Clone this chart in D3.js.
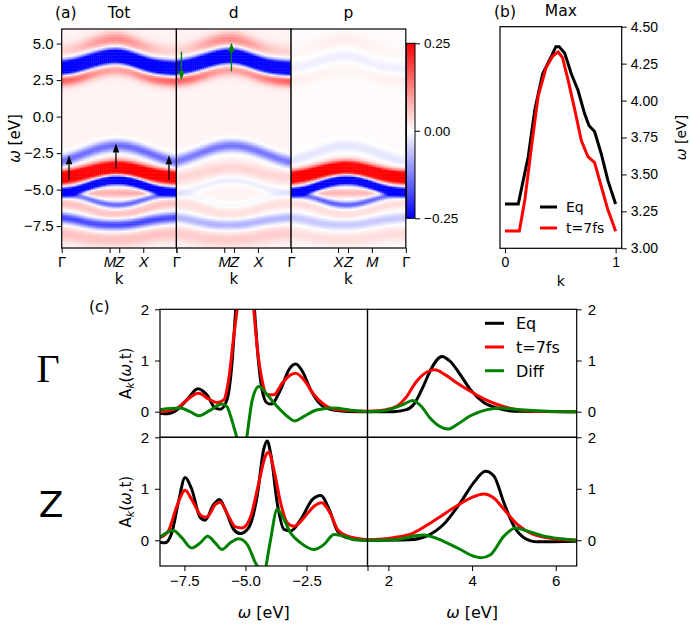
<!DOCTYPE html>
<html lang="en">
<head>
<meta charset="UTF-8">
<title>Spectral maps</title>
<script src="https://d3js.org/d3.v7.min.js"></script>
<style>
    body { margin: 0; background: #fff; }
    svg { font-family: "DejaVu Sans", sans-serif; }
    .frame { fill: none; stroke: #000; stroke-width: 1.2; }
    .tick line { stroke: #000; }
    .domain { display: none; }
</style>
</head>
<body>
<script>

    var width = 690,
        height = 625;

    // ---------- panel (a): band features read along the k path ----------
    var kNodes  = [0, 0.1, 0.2, 0.3, 0.4, 0.5, 0.6, 0.7, 0.8, 0.9, 1];
    var upBand  = [3.35, 3.45, 3.7, 3.95, 4.15, 4.2, 4.0, 3.7, 3.45, 3.35, 3.3];
    var upBelow = [2.55, 2.6, 2.8, 3.05, 3.25, 3.3, 3.15, 2.85, 2.65, 2.55, 2.5];
    var upAbove = [4.5, 4.6, 4.85, 5.1, 5.3, 5.35, 5.15, 4.85, 4.6, 4.5, 4.45];
    var bandA   = [-3.05, -2.8, -2.5, -2.2, -2.0, -1.95, -2.05, -2.3, -2.6, -2.9, -3.1];
    var bandB   = [-4.15, -4.05, -3.85, -3.65, -3.5, -3.45, -3.55, -3.75, -3.95, -4.1, -4.15];
    var bandC   = [-5.15, -5.1, -4.85, -4.55, -4.35, -4.3, -4.4, -4.65, -4.95, -5.1, -5.15];
    var bandD   = [-5.3, -5.35, -5.5, -5.8, -6.0, -6.05, -5.95, -5.7, -5.45, -5.3, -5.25];
    var lensIn  = [-5.25, -5.25, -5.2, -5.2, -5.2, -5.2, -5.2, -5.2, -5.2, -5.2, -5.2];
    var pinkDE  = [-5.9, -6.0, -6.2, -6.5, -6.7, -6.7, -6.6, -6.4, -6.1, -5.95, -5.9];
    var bandE   = [-6.9, -7.0, -7.2, -7.35, -7.4, -7.4, -7.35, -7.2, -7.05, -6.95, -6.9];
    var belowE  = [-8.0, -8.1, -8.25, -8.35, -8.4, -8.4, -8.35, -8.25, -8.1, -8.0, -8.0];
    var bandSig = [0.32, 0.3, 0.35, 0.28, 0.3, 0.2, 0.16, 0.2, 0.25, 0.25, 0.35];

    // how the strength of the red fringes around the upper band changes along k
    var upBelowGain = [1.3, 1.2, 1.0, 0.8, 0.7, 0.7, 0.75, 0.9, 1.1, 1.25, 1.3];
    var upAboveGain = [0.4, 0.5, 0.8, 1.1, 1.3, 1.3, 1.2, 0.9, 0.6, 0.45, 0.4];

    // strength of each feature in the three maps (same order as bands)
    var ampTot = [-0.6, 0.13, 0.08, -0.16, 0.45, -0.5, -0.17, 0.07, 0.05, -0.2, 0.05];
    var ampD   = [-0.6, 0.13, 0.08, -0.15, 0.03, -0.03, -0.02, 0.0, 0.02, -0.09, 0.04];
    var ampP   = [-0.02, 0.01, 0.01, -0.03, 0.45, -0.5, -0.17, 0.07, 0.03, -0.06, 0.03];
    var bgLevel = [0.012, 0.012, 0.004];

    var mapTitles = ["Tot", "d", "p"];
    var kTicksA  = [0, 0.417, 0.502, 0.711, 1];
    var kLabelsA = ["Γ", "M", "Z", "X", "Γ"];
    var kTicksP  = [0, 0.409, 0.496, 0.704, 1];
    var kLabelsP = ["Γ", "X", "Z", "M", "Γ"];
    var wTicksA  = [-7.5, -5, -2.5, 0, 2.5, 5];
    var cbTicks  = [-0.25, 0, 0.25];

    // arrows: black in Tot, green in d
    var blackArrK = [0.064, 0.473, 0.935], blackArrFrom = [-4.35, -3.55, -4.35], blackArrTo = [-2.65, -1.85, -2.65];
    var greenArrK = [0.044, 0.48], greenArrFrom = [4.45, 3.1], greenArrTo = [2.5, 5.05];

    // ---------- panel (b): position of maximum ----------
    var maxEqK = [0, 0.12, 0.21, 0.27, 0.34, 0.42, 0.46, 0.49, 0.54, 0.60, 0.66, 0.72, 0.76, 0.81, 0.87, 0.93, 1.0];
    var maxEqW = [3.3, 3.3, 3.62, 3.94, 4.18, 4.30, 4.365, 4.365, 4.32, 4.18, 4.07, 3.91, 3.83, 3.79, 3.64, 3.46, 3.3];
    var maxT7K = [0, 0.13, 0.18, 0.24, 0.30, 0.37, 0.43, 0.48, 0.52, 0.57, 0.63, 0.69, 0.75, 0.81, 0.87, 0.93, 0.97, 1.0];
    var maxT7W = [3.117, 3.117, 3.33, 3.69, 4.03, 4.22, 4.30, 4.33, 4.29, 4.14, 3.94, 3.73, 3.62, 3.58, 3.42, 3.26, 3.18, 3.115];
    var maxTicks = [3.0, 3.25, 3.5, 3.75, 4.0, 4.25, 4.5];

    // ---------- panel (c): spectral functions [omega, A] ----------
    var gLeftEq = [[-8.5,-0.03],[-8.2,-0.04],[-7.8,0.04],[-7.4,0.23],[-6.95,0.45],[-6.58,0.33],[-6.24,0.07],[-6.03,0.05],[-5.76,0.23],[-5.55,0.95],[-5.41,1.92],[-5.25,3.0],[-5.05,4.0],[-4.85,3.0],[-4.63,2.0],[-4.52,1.27],[-4.32,0.43],[-4.11,0.17],[-3.95,0.15],[-3.56,0.43],[-3.22,0.82],[-2.94,0.93],[-2.67,0.79],[-2.33,0.43],[-1.92,0.14],[-1.5,0.04],[-0.96,0.01],[0,0]];
    var gLeftT7 = [[-8.5,0.0],[-7.8,0.07],[-7.4,0.23],[-6.92,0.36],[-6.51,0.25],[-6.17,0.18],[-5.89,0.23],[-5.69,0.62],[-5.48,1.47],[-5.34,2.0],[-5.15,2.9],[-5.0,3.3],[-4.85,2.9],[-4.66,2.0],[-4.52,1.27],[-4.32,0.62],[-4.11,0.33],[-3.84,0.33],[-3.49,0.56],[-3.15,0.72],[-2.94,0.75],[-2.6,0.62],[-2.19,0.33],[-1.78,0.14],[-1.37,0.05],[0,0.01]];
    var gLeftDf = [[-8.5,0.04],[-7.68,0.07],[-7.27,0.0],[-6.9,-0.08],[-6.51,0.01],[-5.96,0.15],[-5.76,0.10],[-5.6,-0.1],[-5.48,-0.29],[-5.34,-0.55],[-5.2,-1.1],[-5.08,-0.9],[-4.96,-0.55],[-4.72,0.23],[-4.45,0.49],[-4.11,0.33],[-3.7,0.10],[-3.29,-0.09],[-2.99,-0.18],[-2.6,-0.09],[-2.05,0.04],[-1.37,0.07],[-0.68,0.03],[0,0]];
    var gRightEq = [[1.5,0],[2.11,0],[2.43,0.04],[2.63,0.17],[2.83,0.49],[3.03,0.85],[3.28,1.08],[3.48,0.98],[3.72,0.72],[3.96,0.43],[4.28,0.18],[4.6,0.07],[5.0,0.01],[6.5,0]];
    var gRightT7 = [[1.5,0.01],[1.95,0.04],[2.19,0.1],[2.43,0.29],[2.67,0.59],[2.91,0.77],[3.11,0.82],[3.36,0.72],[3.64,0.56],[3.96,0.40],[4.28,0.25],[4.6,0.14],[5.0,0.05],[5.48,0.01],[6.5,0]];
    var gRightDf = [[1.5,0],[1.95,0.03],[2.35,0.14],[2.58,0.22],[2.79,0.10],[2.99,-0.12],[3.23,-0.29],[3.42,-0.34],[3.64,-0.25],[3.96,-0.08],[4.36,0.04],[4.68,0.07],[5.16,0.04],[5.8,0.01],[6.5,0]];
    var zLeftEq = [[-8.5,-0.04],[-8.29,-0.05],[-8.02,0.14],[-7.75,0.73],[-7.47,1.22],[-7.2,0.99],[-6.85,0.44],[-6.65,0.39],[-6.31,0.69],[-6.06,0.79],[-5.83,0.6],[-5.48,0.21],[-5.21,0.13],[-4.87,0.24],[-4.52,0.86],[-4.25,1.77],[-4.11,1.93],[-3.95,1.64],[-3.7,0.73],[-3.42,0.21],[-3.15,0.18],[-2.74,0.4],[-2.26,0.79],[-1.92,0.87],[-1.57,0.6],[-1.23,0.18],[-0.82,0.05],[0,0]];
    var zLeftT7 = [[-8.5,0.05],[-8.16,0.18],[-7.81,0.66],[-7.47,0.97],[-7.2,0.79],[-6.79,0.47],[-6.58,0.45],[-6.24,0.69],[-6.03,0.74],[-5.76,0.53],[-5.41,0.26],[-5.14,0.24],[-4.8,0.44],[-4.45,1.12],[-4.18,1.64],[-4.04,1.71],[-3.84,1.38],[-3.56,0.73],[-3.29,0.34],[-3.01,0.27],[-2.6,0.44],[-2.19,0.66],[-1.89,0.73],[-1.5,0.5],[-1.23,0.21],[-0.82,0.08],[0,0.01]];
    var zLeftDf = [[-8.5,0.06],[-7.95,0.19],[-7.61,0.05],[-7.2,-0.15],[-6.85,-0.05],[-6.55,0.08],[-6.24,-0.05],[-5.96,-0.18],[-5.62,-0.05],[-5.28,0.03],[-4.93,-0.08],[-4.59,-0.44],[-4.45,-0.57],[-4.3,-0.9],[-4.18,-0.57],[-3.97,0.01],[-3.7,0.6],[-3.42,0.4],[-3.15,0.14],[-2.74,-0.05],[-2.19,-0.18],[-1.78,-0.08],[-1.37,0.11],[-0.96,0.08],[-0.54,0.01],[0,0]];
    var zRightEq = [[1.5,0],[2.51,0.01],[2.91,0.08],[3.32,0.31],[3.72,0.73],[4.04,1.12],[4.32,1.34],[4.52,1.25],[4.76,0.73],[5.0,0.27],[5.24,0.05],[5.56,-0.03],[6.5,-0.02]];
    var zRightT7 = [[1.5,0.01],[2.11,0.05],[2.59,0.14],[3.07,0.37],[3.56,0.63],[3.96,0.82],[4.28,0.9],[4.52,0.82],[4.76,0.6],[5.08,0.31],[5.48,0.11],[5.97,0.03],[6.5,0]];
    var zRightDf = [[1.5,0],[2.11,0.01],[2.83,0.1],[3.32,-0.02],[3.72,-0.18],[4.04,-0.31],[4.21,-0.34],[4.44,-0.28],[4.76,0.08],[5.04,0.24],[5.32,0.18],[5.72,0.08],[6.13,0.03],[6.5,0]];

    var seriesNames  = ["Eq", "t=7fs", "Diff"];
    var seriesColors = ["#000000", "#ff0000", "#008000"];

    var svg = d3.select("body").append("svg")
        .attr("width", width)
        .attr("height", height);

    var defs = svg.append("defs");

    // ================= (a) =================
    var aTop = 29, aBot = 248, aLeft = 61.7, aW = 114.7;
    var yA = d3.scaleLinear().domain([-9, 6]).range([aBot, aTop]);
    var col = d3.scaleLinear().domain([-0.25, 0, 0.25])
        .range(["#0000ff", "#ffffff", "#ff0000"]).clamp(true);

    var bandFns = [upBand, upBelow, upAbove, bandA, bandB, bandC, bandD, lensIn, pinkDE, bandE, belowE]
        .map(function(c) { return d3.interpolateBasis(c); });
    var gainBelow = d3.interpolateBasis(upBelowGain),
        gainAbove = d3.interpolateBasis(upAboveGain);

    function mapCells(amps, bg) {
        var nk = 58, dw = 0.1, cells = [];
        for (var i = 0; i < nk; i++) {
            var k = (i + 0.5) / nk;
            var cen = bandFns.map(function(f) { return f(k); });
            var gain = [1, gainBelow(k), gainAbove(k), 1, 1, 1, 1, 1, 1, 1, 1];
            for (var j = 0; j < 150; j++) {
                var w = -9 + (j + 0.5) * dw;
                var v = bg;
                for (var b = 0; b < cen.length; b++) {
                    var d = (w - cen[b]) / bandSig[b];
                    v += amps[b] * gain[b] * Math.exp(-0.5 * d * d);
                }
                cells.push({k0: i / nk, k1: (i + 1) / nk, w0: w - dw / 2, w1: w + dw / 2, v: v});
            }
        }
        return cells;
    }

    var ampList = [ampTot, ampD, ampP];

    ampList.forEach(function(amps, p) {
        var x0 = aLeft + p * aW;
        var xk = d3.scaleLinear().domain([0, 1]).range([x0, x0 + aW]);
        var g = svg.append("g");

        g.selectAll("rect.cell")
            .data(mapCells(amps, bgLevel[p]))
            .join("rect")
            .attr("class", "cell")
            .attr("x", function(d) { return xk(d.k0); })
            .attr("y", function(d) { return yA(d.w1); })
            .attr("width", function(d) { return xk(d.k1) - xk(d.k0) + 0.4; })
            .attr("height", function(d) { return yA(d.w0) - yA(d.w1) + 0.4; })
            .attr("fill", function(d) { return col(d.v); });

        var ticks = p == 2 ? kTicksP : kTicksA;
        var labels = p == 2 ? kLabelsP : kLabelsA;
        var ax = g.append("g")
            .attr("transform", "translate(0," + aBot + ")")
            .call(d3.axisBottom(xk).tickValues(ticks).tickSize(5).tickPadding(3)
                .tickFormat(function(d, i) { return (i == 4 && p < 2) ? "" : labels[i]; }));
        ax.selectAll("text")
            .style("font-size", "15px")
            .style("font-style", function(d, i) { return labels[i] == "Γ" ? "normal" : "italic"; });

        g.append("rect").attr("class", "frame")
            .attr("x", x0).attr("y", aTop).attr("width", aW).attr("height", aBot - aTop);

        g.append("text")
            .attr("x", x0 + aW / 2).attr("y", 18)
            .attr("text-anchor", "middle").style("font-size", "15.5px")
            .text(mapTitles[p]);

        g.append("text")
            .attr("x", xk(0.5)).attr("y", 284)
            .attr("text-anchor", "middle").style("font-size", "15px")
            .text("k");
    });

    svg.append("g")
        .attr("transform", "translate(" + aLeft + ",0)")
        .call(d3.axisLeft(yA).tickValues(wTicksA).tickSize(5).tickPadding(3).tickFormat(d3.format(".1f")))
        .selectAll("text").style("font-size", "15px");

    svg.append("text")
        .attr("transform", "translate(20," + ((aTop + aBot) / 2) + ") rotate(-90)")
        .attr("text-anchor", "middle").style("font-size", "15px")
        .html('<tspan font-style="italic">ω</tspan> [eV]');

    svg.append("text").attr("x", 55).attr("y", 18).style("font-size", "15.5px").text("(a)");

    function arrow(x, y1, y2, color) {
        var dir = y2 < y1 ? -1 : 1, hl = 9, hw = 3.2;
        svg.append("line")
            .attr("x1", x).attr("x2", x).attr("y1", y1).attr("y2", y2 - dir * hl)
            .attr("stroke", color).attr("stroke-width", 1.3);
        svg.append("path")
            .attr("d", "M" + x + "," + y2 + "L" + (x - hw) + "," + (y2 - dir * hl) + "L" + (x + hw) + "," + (y2 - dir * hl) + "Z")
            .attr("fill", color);
    }

    var xTot = d3.scaleLinear().domain([0, 1]).range([aLeft, aLeft + aW]);
    var xD = d3.scaleLinear().domain([0, 1]).range([aLeft + aW, aLeft + 2 * aW]);
    blackArrK.forEach(function(k, i) {
        arrow(xTot(k), yA(blackArrFrom[i]), yA(blackArrTo[i]), "#000");
    });
    greenArrK.forEach(function(k, i) {
        arrow(xD(k), yA(greenArrFrom[i]), yA(greenArrTo[i]), "#008000");
    });

    // colorbar
    var cbX = 406.5, cbW = 8.5, cbTop = 43.3, cbBot = 218.3;
    var cbScale = d3.scaleLinear().domain([-0.25, 0.25]).range([cbBot, cbTop]);
    var grad = defs.append("linearGradient").attr("id", "cbgrad")
        .attr("x1", 0).attr("y1", 1).attr("x2", 0).attr("y2", 0);
    grad.selectAll("stop").data(d3.range(0, 1.0001, 0.05)).join("stop")
        .attr("offset", function(d) { return d; })
        .attr("stop-color", function(d) { return col(-0.25 + 0.5 * d); });
    svg.append("rect").attr("x", cbX).attr("y", cbTop).attr("width", cbW).attr("height", cbBot - cbTop)
        .attr("fill", "url(#cbgrad)").attr("stroke", "#000").attr("stroke-width", 1);
    svg.append("g")
        .attr("transform", "translate(" + (cbX + cbW) + ",0)")
        .call(d3.axisRight(cbScale).tickValues(cbTicks).tickSize(5).tickPadding(4).tickFormat(d3.format(".2f")))
        .selectAll("text").style("font-size", "13.5px");

    // ================= (b) =================
    var bLeft = 500, bRight = 621.7, bTop = 26.7, bBot = 248.3;
    var xB = d3.scaleLinear().domain([-0.045, 1.055]).range([bLeft, bRight]);
    var yB = d3.scaleLinear().domain([3.0, 4.5]).range([bBot, bTop]);
    var lineB = d3.line().x(function(d) { return xB(d[0]); }).y(function(d) { return yB(d[1]); });

    svg.append("path").datum(d3.zip(maxEqK, maxEqW))
        .attr("d", lineB).attr("fill", "none").attr("stroke", "#000").attr("stroke-width", 3);
    svg.append("path").datum(d3.zip(maxT7K, maxT7W))
        .attr("d", lineB).attr("fill", "none").attr("stroke", "#ff0000").attr("stroke-width", 3);

    svg.append("rect").attr("class", "frame")
        .attr("x", bLeft).attr("y", bTop).attr("width", bRight - bLeft).attr("height", bBot - bTop);
    svg.append("g")
        .attr("transform", "translate(" + bRight + ",0)")
        .call(d3.axisRight(yB).tickValues(maxTicks).tickSize(5).tickPadding(4).tickFormat(d3.format(".2f")))
        .selectAll("text").style("font-size", "14px");
    svg.append("g")
        .attr("transform", "translate(0," + bBot + ")")
        .call(d3.axisBottom(xB).tickValues([0, 1]).tickSize(5).tickPadding(4).tickFormat(d3.format("d")))
        .selectAll("text").style("font-size", "14px");
    svg.append("text").attr("x", (bLeft + bRight) / 2).attr("y", 286)
        .attr("text-anchor", "middle").style("font-size", "14px").text("k");
    svg.append("text")
        .attr("transform", "translate(686," + ((bTop + bBot) / 2) + ") rotate(-90)")
        .attr("text-anchor", "middle").style("font-size", "14px")
        .html('<tspan font-style="italic">ω</tspan> [eV]');
    svg.append("text").attr("x", 494).attr("y", 17).style("font-size", "15.5px").text("(b)");
    svg.append("text").attr("x", (bLeft + bRight) / 2).attr("y", 16)
        .attr("text-anchor", "middle").style("font-size", "15.5px").text("Max");

    ["Eq", "t=7fs"].forEach(function(name, i) {
        var ly = 207 + i * 21;
        svg.append("line").attr("x1", 540).attr("x2", 557).attr("y1", ly).attr("y2", ly)
            .attr("stroke", seriesColors[i]).attr("stroke-width", 3);
        svg.append("text").attr("x", 566).attr("y", ly + 5).style("font-size", "14px").text(name);
    });

    // ================= (c) =================
    var cLeft = 160, cMid = 367.5, cRight = 576.7;
    var rowTops = [309.3, 437.3], rowBots = [437.3, 566];
    var xCL = d3.scaleLinear().domain([-8.5, 0]).range([cLeft, cMid]);
    var xCR = d3.scaleLinear().domain([1.5, 6.5]).range([cMid, cRight]);

    var curves = [
        [[gLeftEq, gLeftT7, gLeftDf], [gRightEq, gRightT7, gRightDf]],
        [[zLeftEq, zLeftT7, zLeftDf], [zRightEq, zRightT7, zRightDf]]
    ];

    curves.forEach(function(row, r) {
        var yC = d3.scaleLinear().domain([-0.5, 2]).range([rowBots[r], rowTops[r]]);
        row.forEach(function(sets, c) {
            var xC = c == 0 ? xCL : xCR;
            var id = "clip" + r + c;
            defs.append("clipPath").attr("id", id).append("rect")
                .attr("x", xC.range()[0]).attr("y", rowTops[r])
                .attr("width", xC.range()[1] - xC.range()[0]).attr("height", rowBots[r] - rowTops[r]);
            var line = d3.line().curve(d3.curveMonotoneX)
                .x(function(d) { return xC(d[0]); })
                .y(function(d) { return yC(d[1]); });
            var g = svg.append("g").attr("clip-path", "url(#" + id + ")");
            sets.forEach(function(data, s) {
                g.append("path").datum(data).attr("d", line)
                    .attr("fill", "none").attr("stroke", seriesColors[s]).attr("stroke-width", 3);
            });
            svg.append("rect").attr("class", "frame")
                .attr("x", xC.range()[0]).attr("y", rowTops[r])
                .attr("width", xC.range()[1] - xC.range()[0]).attr("height", rowBots[r] - rowTops[r]);
        });

        svg.append("g")
            .attr("transform", "translate(" + cLeft + ",0)")
            .call(d3.axisLeft(yC).tickValues([0, 1, 2]).tickSize(5).tickPadding(6).tickFormat(d3.format("d")))
            .selectAll("text").style("font-size", "15px");
        svg.append("g")
            .attr("transform", "translate(" + cRight + ",0)")
            .call(d3.axisRight(yC).tickValues([0, 1, 2]).tickSize(5).tickPadding(6).tickFormat(d3.format("d")))
            .selectAll("text").style("font-size", "15px");

        svg.append("text")
            .attr("transform", "translate(131," + ((rowTops[r] + rowBots[r]) / 2) + ") rotate(-90)")
            .attr("text-anchor", "middle").style("font-size", "15px")
            .html('A<tspan font-size="11px" font-style="italic" dy="3">k</tspan><tspan dy="-3">(</tspan><tspan font-style="italic">ω</tspan>,t)');
    });

    svg.append("g")
        .attr("transform", "translate(0," + rowBots[1] + ")")
        .call(d3.axisBottom(xCL).tickValues([-7.5, -5, -2.5, 0]).tickSize(5).tickPadding(4)
            .tickFormat(function(d) { return d == 0 ? "" : d3.format(".1f")(d); }))
        .selectAll("text").style("font-size", "15px");
    svg.append("g")
        .attr("transform", "translate(0," + rowBots[1] + ")")
        .call(d3.axisBottom(xCR).tickValues([2, 4, 6]).tickSize(5).tickPadding(4).tickFormat(d3.format("d")))
        .selectAll("text").style("font-size", "15px");

    [(cLeft + cMid) / 2, (cMid + cRight) / 2].forEach(function(cx) {
        svg.append("text").attr("x", cx).attr("y", 618)
            .attr("text-anchor", "middle").style("font-size", "16px")
            .html('<tspan font-style="italic">ω</tspan> [eV]');
    });

    svg.append("text").attr("x", 89).attr("y", 312).style("font-size", "15.5px").text("(c)");
    svg.append("text").attr("x", 48).attr("y", 382).attr("text-anchor", "middle")
        .style("font-family", "'Liberation Serif', serif").style("font-size", "40px").text("Γ");
    svg.append("text").attr("x", 51).attr("y", 517).attr("text-anchor", "middle")
        .style("font-size", "36px").text("Z");

    seriesNames.forEach(function(name, i) {
        var ly = 323.3 + i * 23.7;
        svg.append("line").attr("x1", 485).attr("x2", 504).attr("y1", ly).attr("y2", ly)
            .attr("stroke", seriesColors[i]).attr("stroke-width", 3);
        svg.append("text").attr("x", 516).attr("y", ly + 6).style("font-size", "16px").text(name);
    });

</script>
</body>
</html>
